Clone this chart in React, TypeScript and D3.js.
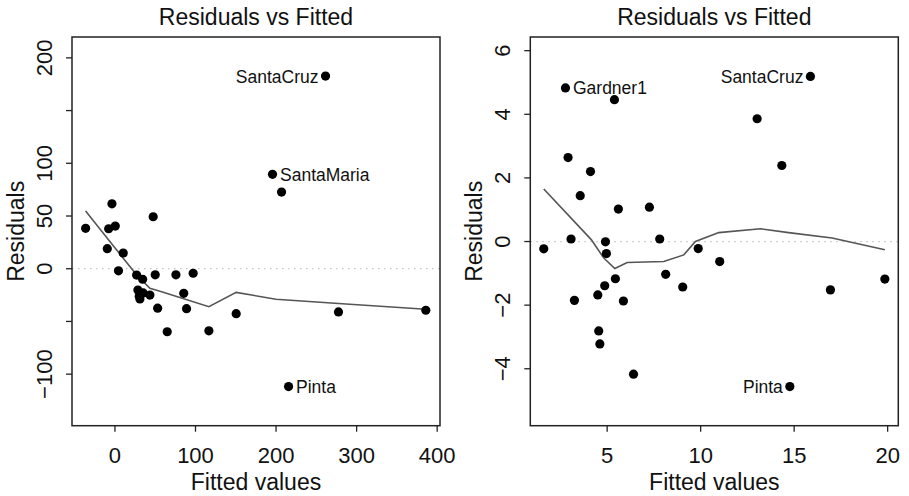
import React from "react";
import * as d3 from "d3";

// ---------- Data ----------
const leftFitted = [261.4, 195.6, 206.8, -36.4, -3.7, -7.8, 0.4, -9.5, 10.3, 4.4, 47.5, 26.9, 34.4, 50, 75.7, 97.1, 28.5, 31, 30.2, 35, 43.4, 85.4, 53, 88.9, 64.9, 116.6, 150.5, 277.5, 385.9, 215.5];
const leftResid = [182.7, 89.5, 72.7, 38.3, 61.6, 37.9, 40.5, 19, 14.9, -2, 49.3, -6, -10, -5.8, -5.8, -4.3, -20.2, -28.7, -26, -23, -25, -23.3, -37.4, -37.9, -59.8, -58.9, -42.6, -41, -39.4, -111.8];
const leftSmoothX = [-36.4, -9.5, 10.3, 27, 43.4, 58, 116.6, 150.5, 199.8, 277.5, 385.9];
const leftSmoothY = [54.7, 29, 10, -6, -18.6, -21.8, -36, -22.4, -29, -33, -38.5];
const leftLabelIdx = [0, 1, 29];
const leftLabelNames = ["SantaCruz", "SantaMaria", "Pinta"];
const leftLabelSide = ["left", "right", "right"];
const leftXTicks = [0, 100, 200, 300, 400];
const leftYTicks = [-100, -50, 0, 50, 100, 150, 200];
const leftYTickLabels = ["\u2212100", "", "0", "50", "100", "", "200"];

const rightFitted = [2.77, 5.39, 15.87, 13.02, 14.34, 2.91, 4.11, 3.56, 5.6, 7.26, 3.07, 1.61, 4.91, 4.96, 7.81, 9.87, 11.02, 8.13, 5.44, 19.85, 4.87, 4.5, 3.25, 5.87, 9.04, 16.94, 4.55, 4.61, 6.41, 14.77];
const rightResid = [4.83, 4.46, 5.19, 3.86, 2.39, 2.64, 2.2, 1.44, 1.02, 1.08, 0.08, -0.23, -0.01, -0.38, 0.08, -0.22, -0.63, -1.03, -1.17, -1.18, -1.39, -1.68, -1.85, -1.87, -1.43, -1.52, -2.81, -3.22, -4.17, -4.56];
const rightSmoothX = [1.61, 4.15, 4.82, 5.41, 6.07, 8.03, 9.1, 9.72, 10.97, 13.2, 14.7, 17.03, 19.85];
const rightSmoothY = [1.65, 0.06, -0.52, -0.85, -0.66, -0.63, -0.42, 0, 0.28, 0.4, 0.28, 0.11, -0.26];
const rightLabelIdx = [0, 2, 29];
const rightLabelNames = ["Gardner1", "SantaCruz", "Pinta"];
const rightLabelSide = ["right", "left", "left"];
const rightXTicks = [5, 10, 15, 20];
const rightYTicks = [-4, -2, 0, 2, 4, 6];
const rightYTickLabels = ["\u22124", "\u22122", "0", "2", "4", "6"];

const title = "Residuals vs Fitted";
const xLabel = "Fitted values";
const yLabel = "Residuals";

const FONT = "'Liberation Sans', Arial, Helvetica, sans-serif";

type PanelProps = {
  box: [number, number, number, number]; // x0, x1, y0, y1
  xDomain: [number, number];
  yDomain: [number, number];
  fitted: number[];
  resid: number[];
  smoothX: number[];
  smoothY: number[];
  labelIdx: number[];
  labelNames: string[];
  labelSide: string[];
  xTicks: number[];
  yTicks: number[];
  yTickLabels: string[];
};

function Panel(p: PanelProps) {
  const [x0, x1, y0, y1] = p.box;
  const x = d3.scaleLinear().domain(p.xDomain).range([x0, x1]);
  const y = d3.scaleLinear().domain(p.yDomain).range([y1, y0]);
  const line = d3
    .line<number>()
    .x((_, i) => x(p.smoothX[i]))
    .y((d) => y(d));
  const cx = (x0 + x1) / 2;
  const cy = (y0 + y1) / 2;
  return (
    <g fontFamily={FONT} fill="#111">
      <text x={cx} y={25} textAnchor="middle" fontSize={23}>
        {title}
      </text>
      <line
        x1={x0}
        x2={x1}
        y1={y(0)}
        y2={y(0)}
        stroke="#c4c4c4"
        strokeWidth={1.3}
        strokeDasharray="1.5,4.5"
      />
      <path d={line(p.smoothY) || ""} fill="none" stroke="#555" strokeWidth={1.6} />
      {p.fitted.map((f, i) => (
        <circle key={i} cx={x(f)} cy={y(p.resid[i])} r={4.6} fill="#000" />
      ))}
      {p.labelIdx.map((idx, k) => {
        const px = x(p.fitted[idx]);
        const py = y(p.resid[idx]);
        const left = p.labelSide[k] === "left";
        return (
          <text
            key={k}
            x={left ? px - 7 : px + 7.5}
            y={py + 6.5}
            textAnchor={left ? "end" : "start"}
            fontSize={17.5}
          >
            {p.labelNames[k]}
          </text>
        );
      })}
      <rect x={x0} y={y0} width={x1 - x0} height={y1 - y0} fill="none" stroke="#222" strokeWidth={1.5} />
      {p.xTicks.map((t) => (
        <g key={t}>
          <line x1={x(t)} x2={x(t)} y1={y1} y2={y1 + 6} stroke="#222" strokeWidth={1.3} />
          <text x={x(t)} y={463} textAnchor="middle" fontSize={22}>
            {t}
          </text>
        </g>
      ))}
      {p.yTicks.map((t, i) => (
        <g key={t}>
          <line x1={x0 - 6} x2={x0} y1={y(t)} y2={y(t)} stroke="#222" strokeWidth={1.3} />
          {p.yTickLabels[i] !== "" && (
            <text
              transform={`translate(${x0 - 20},${y(t)}) rotate(-90)`}
              textAnchor="middle"
              fontSize={22}
            >
              {p.yTickLabels[i]}
            </text>
          )}
        </g>
      ))}
      <text x={cx} y={490} textAnchor="middle" fontSize={23}>
        {xLabel}
      </text>
      <text transform={`translate(${x0 - 48},${cy}) rotate(-90)`} textAnchor="middle" fontSize={23}>
        {yLabel}
      </text>
    </g>
  );
}

export default function App() {
  return (
    <svg
      width={909}
      height={496}
      style={{ position: "absolute", left: 0, top: 0, background: "#fff" }}
    >
      <rect width={909} height={496} fill="#fff" />
      <Panel
        box={[72, 440, 37, 425.7]}
        xDomain={[-53.3, 403.5]}
        yDomain={[-148.9, 219.8]}
        fitted={leftFitted}
        resid={leftResid}
        smoothX={leftSmoothX}
        smoothY={leftSmoothY}
        labelIdx={leftLabelIdx}
        labelNames={leftLabelNames}
        labelSide={leftLabelSide}
        xTicks={leftXTicks}
        yTicks={leftYTicks}
        yTickLabels={leftYTickLabels}
      />
      <Panel
        box={[530.3, 898.3, 37, 425.7]}
        xDomain={[0.89, 20.57]}
        yDomain={[-5.79, 6.43]}
        fitted={rightFitted}
        resid={rightResid}
        smoothX={rightSmoothX}
        smoothY={rightSmoothY}
        labelIdx={rightLabelIdx}
        labelNames={rightLabelNames}
        labelSide={rightLabelSide}
        xTicks={rightXTicks}
        yTicks={rightYTicks}
        yTickLabels={rightYTickLabels}
      />
    </svg>
  );
}
